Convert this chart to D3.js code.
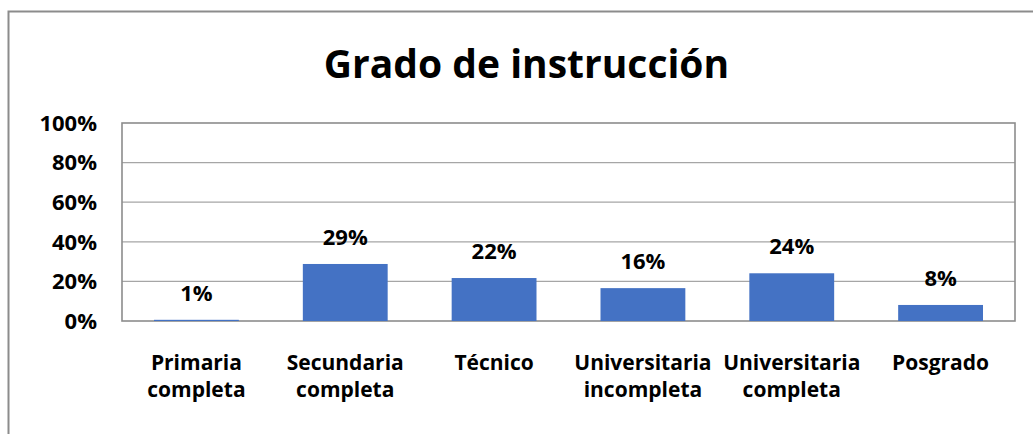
<!DOCTYPE html>
<html>
<head>
<meta charset="utf-8">
<script src="https://cdn.jsdelivr.net/npm/d3@7"></script>
<style>
  body { margin: 0; background: #fff; }
  text { font-family: "Open Sans", Lato, sans-serif; font-weight: bold; fill: #000; }
</style>
</head>
<body>
<div id="vizArea"></div>
<script>
const titulo = 'Grado de instrucción'
const categorias = ['Primaria completa', 'Secundaria completa', 'Técnico', 'Universitaria incompleta', 'Universitaria completa', 'Posgrado']
const porcentajes = [0.6, 28.8, 21.7, 16.6, 24.1, 8.1]
const etiquetas = ['1%', '29%', '22%', '16%', '24%', '8%']
const ticks = [0, 20, 40, 60, 80, 100]

const width = 1033, height = 434
const margin = {top: 123, right: 18, bottom: 113, left: 122}

const svg = d3.select('#vizArea')
    .append('svg')
    .attr('width', width)
    .attr('height', height)

// cadre du graphique (coupé à droite et en bas comme dans l'original)
svg.append('rect')
    .attr('x', 8.5).attr('y', 11.5)
    .attr('width', 1040).attr('height', 440)
    .attr('fill', 'none')
    .attr('stroke', '#8c8c8c')
    .attr('stroke-width', 2)

svg.append('text')
    .attr('x', 526.5)
    .attr('y', 78)
    .attr('text-anchor', 'middle')
    .style('font-size', '39px')
    .text(titulo)

const x = d3.scaleBand().domain(categorias).range([margin.left, width - margin.right]).paddingInner(0.43).paddingOuter(0.215)
const y = d3.scaleLinear().domain([0, 100]).range([height - margin.bottom, margin.top])

// lignes de grille
svg.append('g')
    .selectAll('line')
    .data(ticks.slice(1, -1))
    .enter()
    .append('line')
    .attr('x1', margin.left).attr('x2', width - margin.right)
    .attr('y1', d => y(d)).attr('y2', d => y(d))
    .attr('stroke', '#a6a6a6')
    .attr('stroke-width', 1.3)

svg.append('rect')
    .attr('x', margin.left).attr('y', margin.top)
    .attr('width', width - margin.right - margin.left)
    .attr('height', height - margin.bottom - margin.top)
    .attr('fill', 'none')
    .attr('stroke', '#8c8c8c')
    .attr('stroke-width', 1.6)

svg.selectAll('rect.barre')
    .data(porcentajes)
    .enter()
    .append('rect')
    .attr('class', 'barre')
    .attr('x', (d, i) => x(categorias[i]))
    .attr('width', x.bandwidth())
    .attr('y', d => y(d))
    .attr('height', d => y(0) - y(d))
    .attr('fill', '#4472c4')

svg.selectAll('text.etiq')
    .data(porcentajes)
    .enter()
    .append('text')
    .attr('class', 'etiq')
    .attr('x', (d, i) => x(categorias[i]) + x.bandwidth() / 2)
    .attr('y', d => y(d) - 19)
    .attr('text-anchor', 'middle')
    .style('font-size', '22px')
    .text((d, i) => etiquetas[i])

// axe y
svg.selectAll('text.tick')
    .data(ticks)
    .enter()
    .append('text')
    .attr('class', 'tick')
    .attr('x', 97)
    .attr('y', d => y(d))
    .attr('dy', '0.35em')
    .attr('text-anchor', 'end')
    .style('font-size', '22px')
    .text(d => d + '%')

// axe x (étiquettes sur deux lignes)
const cat = svg.selectAll('text.cat')
    .data(categorias)
    .enter()
    .append('text')
    .attr('class', 'cat')
    .attr('text-anchor', 'middle')
    .style('font-size', '21px')

cat.each(function(d) {
    const mots = d.split(' ')
    const t = d3.select(this)
    mots.forEach((m, j) => {
        t.append('tspan')
            .attr('x', x(d) + x.bandwidth() / 2)
            .attr('y', 370 + j * 26.5)
            .text(m)
    })
})
</script>
</body>
</html>
